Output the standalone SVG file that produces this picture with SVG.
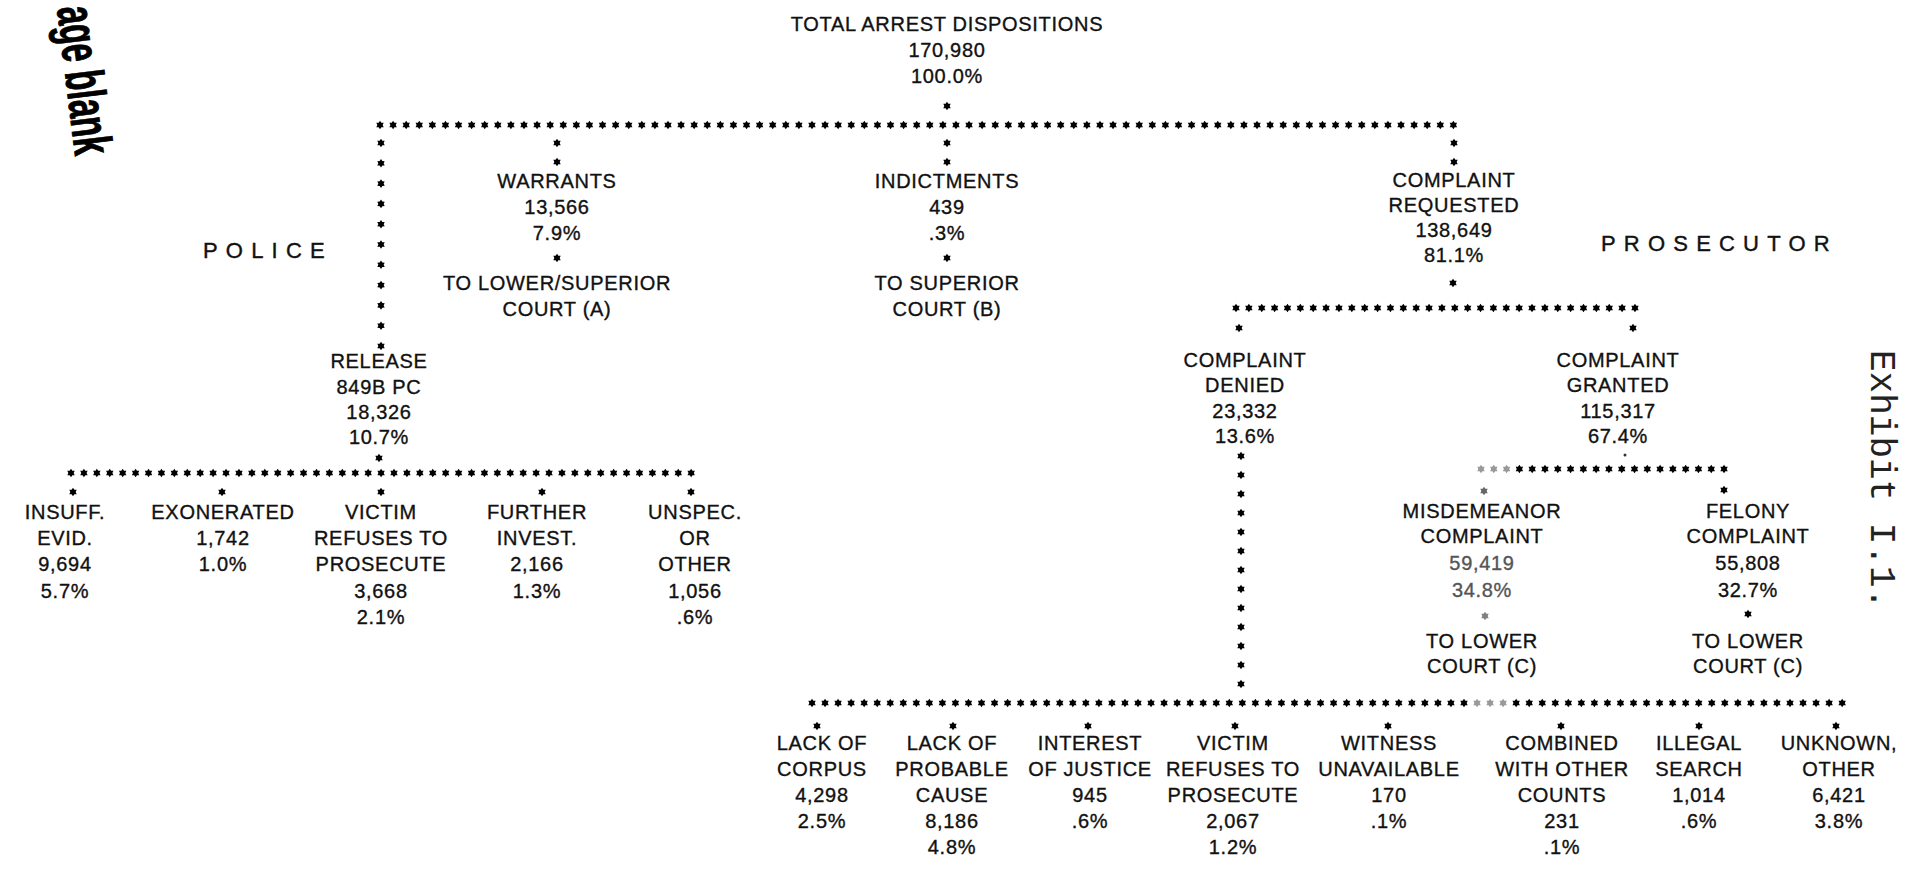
<svg xmlns="http://www.w3.org/2000/svg" xmlns:xlink="http://www.w3.org/1999/xlink" width="1906" height="872" viewBox="0 0 1906 872">
  <style>
    .t { font-family: "Liberation Sans", Arial, sans-serif; font-size: 20px; letter-spacing: 0.7px; fill: #111; stroke: #111; stroke-width: 0.35px; text-anchor: middle; }
    .h { font-family: "Liberation Sans", Arial, sans-serif; font-size: 22px; letter-spacing: 8.2px; fill: #111; stroke: #111; stroke-width: 0.4px; }
    .pale { fill: #555; stroke: #555; }
    .dots { fill: none; stroke: none; marker-start: url(#st); marker-mid: url(#st); marker-end: url(#st); }
    .dots.f { marker-start: url(#sf); marker-mid: url(#sf); marker-end: url(#sf); }
  </style>
  <defs>
    <!-- typewriter asterisk used for every dotted connector -->
    <polygon id="star" points="0,-4.3 1.35,-2.3 3.7,-2.15 2.65,0 3.7,2.15 1.35,2.3 0,4.3 -1.35,2.3 -3.7,2.15 -2.65,0 -3.7,-2.15 -1.35,-2.3" fill="#000"/>
    <marker id="st" markerUnits="userSpaceOnUse" markerWidth="10" markerHeight="10" refX="0" refY="0" style="overflow:visible">
      <use href="#star"/>
    </marker>
    <marker id="sf" markerUnits="userSpaceOnUse" markerWidth="10" markerHeight="10" refX="0" refY="0" style="overflow:visible">
      <polygon points="0,-4.3 1.35,-2.3 3.7,-2.15 2.65,0 3.7,2.15 1.35,2.3 0,4.3 -1.35,2.3 -3.7,2.15 -2.65,0 -3.7,-2.15 -1.35,-2.3" fill="#999"/>
    </marker>
  </defs>
  <rect width="1906" height="872" fill="#fff"/>

  <!-- side annotations -->
  <text transform="translate(57,8) rotate(83) scale(0.6,1)" font-family="Liberation Sans, Arial, sans-serif" font-weight="bold" font-size="54" fill="#000" stroke="#000" stroke-width="1">age blank</text>
  <text transform="translate(1871,350) rotate(90)" font-family="Liberation Mono, Courier New, monospace" font-size="36" fill="#222">Exhibit I.1.</text>
  <text class="h" x="203" y="258">POLICE</text>
  <text class="h" x="1601" y="251">PROSECUTOR</text>

  <!-- dotted connectors -->
  <g id="connectors">
    <use href="#star" x="947" y="106"/>
    <path class="dots" d="M380 125h13.09h13.09h13.09h13.09h13.09h13.09h13.09h13.09h13.09h13.09h13.09h13.09h13.09h13.09h13.09h13.09h13.09h13.09h13.09h13.09h13.09h13.09h13.09h13.09h13.09h13.09h13.09h13.09h13.09h13.09h13.09h13.09h13.09h13.09h13.09h13.09h13.09h13.09h13.09h13.09h13.09h13.09h13.09h13.09h13.09h13.09h13.09h13.09h13.09h13.09h13.09h13.09h13.09h13.09h13.09h13.09h13.09h13.09h13.09h13.09h13.09h13.09h13.09h13.09h13.09h13.09h13.09h13.09h13.09h13.09h13.09h13.09h13.09h13.09h13.09h13.09h13.09h13.09h13.09h13.09h13.09h13.09"/>
    <path class="dots" d="M381 143v20.3v20.3v20.3v20.3v20.3v20.3v20.3v20.3v20.3v20.3"/>
    <path class="dots" d="M557 143v19"/>
    <path class="dots" d="M947 143v19"/>
    <path class="dots" d="M1454 143v19"/>
    <use href="#star" x="557" y="258"/>
    <use href="#star" x="947" y="258"/>
    <use href="#star" x="1453" y="283"/>

    <!-- police release branch -->
    <use href="#star" x="379" y="458"/>
    <path class="dots" d="M71 473h12.92h12.92h12.92h12.92h12.92h12.92h12.92h12.92h12.92h12.92h12.92h12.92h12.92h12.92h12.92h12.92h12.92h12.92h12.92h12.92h12.92h12.92h12.92h12.92h12.92h12.92h12.92h12.92h12.92h12.92h12.92h12.92h12.92h12.92h12.92h12.92h12.92h12.92h12.92h12.92h12.92h12.92h12.92h12.92h12.92h12.92h12.92h12.92"/>
    <use href="#star" x="73" y="492"/>
    <use href="#star" x="222" y="492"/>
    <use href="#star" x="381" y="492"/>
    <use href="#star" x="542" y="492"/>
    <use href="#star" x="691" y="492"/>

    <!-- prosecutor split -->
    <path class="dots" d="M1236 308h12.87h12.87h12.87h12.87h12.87h12.87h12.87h12.87h12.87h12.87h12.87h12.87h12.87h12.87h12.87h12.87h12.87h12.87h12.87h12.87h12.87h12.87h12.87h12.87h12.87h12.87h12.87h12.87h12.87h12.87h12.87"/>
    <use href="#star" x="1239" y="328"/>
    <use href="#star" x="1633" y="328"/>

    <!-- complaint granted split -->
    <circle cx="1625" cy="455" r="1.5" fill="#333"/>
    <path class="dots f" d="M1481 469h12.79h12.79"/>
    <path class="dots" d="M1519.4 469h12.79h12.79h12.79h12.79h12.79h12.79h12.79h12.79h12.79h12.79h12.79h12.79h12.79h12.79h12.79h12.79"/>
    <use href="#star" x="1484" y="491" opacity="0.6"/>
    <use href="#star" x="1724" y="490"/>
    <use href="#star" x="1485" y="616" opacity="0.5"/>
    <use href="#star" x="1748" y="614"/>

    <!-- complaint denied branch -->
    <path class="dots" d="M1241 456v19v19v19v19v19v19v19v19v19v19v19v19"/>
    <path class="dots" d="M812 703h13.04h13.04h13.04h13.04h13.04h13.04h13.04h13.04h13.04h13.04h13.04h13.04h13.04h13.04h13.04h13.04h13.04h13.04h13.04h13.04h13.04h13.04h13.04h13.04h13.04h13.04h13.04h13.04h13.04h13.04h13.04h13.04h13.04h13.04h13.04h13.04h13.04h13.04h13.04h13.04h13.04h13.04h13.04h13.04h13.04h13.04h13.04h13.04h13.04h13.04"/>
    <path class="dots f" d="M1477.04 703h13.04h13.04"/>
    <path class="dots" d="M1516.16 703h13.04h13.04h13.04h13.04h13.04h13.04h13.04h13.04h13.04h13.04h13.04h13.04h13.04h13.04h13.04h13.04h13.04h13.04h13.04h13.04h13.04h13.04h13.04h13.04h13.04"/>
    <use href="#star" x="817" y="726"/>
    <use href="#star" x="953" y="726"/>
    <use href="#star" x="1088" y="726"/>
    <use href="#star" x="1235" y="726"/>
    <use href="#star" x="1388" y="726"/>
    <use href="#star" x="1561" y="726"/>
    <use href="#star" x="1699" y="726"/>
    <use href="#star" x="1836" y="726"/>
  </g>

  <!-- top level -->
  <g id="total">
    <text class="t"><tspan x="947" y="31">TOTAL ARREST DISPOSITIONS</tspan><tspan x="947" y="57">170,980</tspan><tspan x="947" y="83">100.0%</tspan></text>
  </g>
  <g id="warrants">
    <text class="t"><tspan x="557" y="188">WARRANTS</tspan><tspan x="557" y="214">13,566</tspan><tspan x="557" y="240">7.9%</tspan><tspan x="557" y="290">TO LOWER/SUPERIOR</tspan><tspan x="557" y="316">COURT (A)</tspan></text>
  </g>
  <g id="indictments">
    <text class="t"><tspan x="947" y="188">INDICTMENTS</tspan><tspan x="947" y="214">439</tspan><tspan x="947" y="240">.3%</tspan><tspan x="947" y="290">TO SUPERIOR</tspan><tspan x="947" y="316">COURT (B)</tspan></text>
  </g>
  <g id="complaint-requested">
    <text class="t"><tspan x="1454" y="187">COMPLAINT</tspan><tspan x="1454" y="212">REQUESTED</tspan><tspan x="1454" y="237">138,649</tspan><tspan x="1454" y="262">81.1%</tspan></text>
  </g>

  <!-- police release -->
  <g id="release">
    <text class="t"><tspan x="379" y="368">RELEASE</tspan><tspan x="379" y="394">849B PC</tspan><tspan x="379" y="419">18,326</tspan><tspan x="379" y="444">10.7%</tspan></text>
  </g>
  <g id="insufficient-evidence">
    <text class="t"><tspan x="65" y="519">INSUFF.</tspan><tspan x="65" y="545">EVID.</tspan><tspan x="65" y="571">9,694</tspan><tspan x="65" y="598">5.7%</tspan></text>
  </g>
  <g id="exonerated">
    <text class="t"><tspan x="223" y="519">EXONERATED</tspan><tspan x="223" y="545">1,742</tspan><tspan x="223" y="571">1.0%</tspan></text>
  </g>
  <g id="victim-refuses-police">
    <text class="t"><tspan x="381" y="519">VICTIM</tspan><tspan x="381" y="545">REFUSES TO</tspan><tspan x="381" y="571">PROSECUTE</tspan><tspan x="381" y="598">3,668</tspan><tspan x="381" y="624">2.1%</tspan></text>
  </g>
  <g id="further-invest">
    <text class="t"><tspan x="537" y="519">FURTHER</tspan><tspan x="537" y="545">INVEST.</tspan><tspan x="537" y="571">2,166</tspan><tspan x="537" y="598">1.3%</tspan></text>
  </g>
  <g id="unspecified">
    <text class="t"><tspan x="695" y="519">UNSPEC.</tspan><tspan x="695" y="545">OR</tspan><tspan x="695" y="571">OTHER</tspan><tspan x="695" y="598">1,056</tspan><tspan x="695" y="624">.6%</tspan></text>
  </g>

  <!-- prosecutor -->
  <g id="complaint-denied">
    <text class="t"><tspan x="1245" y="367">COMPLAINT</tspan><tspan x="1245" y="392">DENIED</tspan><tspan x="1245" y="418">23,332</tspan><tspan x="1245" y="443">13.6%</tspan></text>
  </g>
  <g id="complaint-granted">
    <text class="t"><tspan x="1618" y="367">COMPLAINT</tspan><tspan x="1618" y="392">GRANTED</tspan><tspan x="1618" y="418">115,317</tspan><tspan x="1618" y="443">67.4%</tspan></text>
  </g>
  <g id="misdemeanor">
    <text class="t"><tspan x="1482" y="518">MISDEMEANOR</tspan><tspan x="1482" y="543">COMPLAINT</tspan><tspan x="1482" y="570" class="pale">59,419</tspan><tspan x="1482" y="597" class="pale">34.8%</tspan><tspan x="1482" y="648">TO LOWER</tspan><tspan x="1482" y="673">COURT (C)</tspan></text>
  </g>
  <g id="felony">
    <text class="t"><tspan x="1748" y="518">FELONY</tspan><tspan x="1748" y="543">COMPLAINT</tspan><tspan x="1748" y="570">55,808</tspan><tspan x="1748" y="597">32.7%</tspan><tspan x="1748" y="648">TO LOWER</tspan><tspan x="1748" y="673">COURT (C)</tspan></text>
  </g>

  <!-- reasons for denial -->
  <g id="lack-of-corpus">
    <text class="t"><tspan x="822" y="750">LACK OF</tspan><tspan x="822" y="776">CORPUS</tspan><tspan x="822" y="802">4,298</tspan><tspan x="822" y="828">2.5%</tspan></text>
  </g>
  <g id="lack-of-probable-cause">
    <text class="t"><tspan x="952" y="750">LACK OF</tspan><tspan x="952" y="776">PROBABLE</tspan><tspan x="952" y="802">CAUSE</tspan><tspan x="952" y="828">8,186</tspan><tspan x="952" y="854">4.8%</tspan></text>
  </g>
  <g id="interest-of-justice">
    <text class="t"><tspan x="1090" y="750">INTEREST</tspan><tspan x="1090" y="776">OF JUSTICE</tspan><tspan x="1090" y="802">945</tspan><tspan x="1090" y="828">.6%</tspan></text>
  </g>
  <g id="victim-refuses-prosecutor">
    <text class="t"><tspan x="1233" y="750">VICTIM</tspan><tspan x="1233" y="776">REFUSES TO</tspan><tspan x="1233" y="802">PROSECUTE</tspan><tspan x="1233" y="828">2,067</tspan><tspan x="1233" y="854">1.2%</tspan></text>
  </g>
  <g id="witness-unavailable">
    <text class="t"><tspan x="1389" y="750">WITNESS</tspan><tspan x="1389" y="776">UNAVAILABLE</tspan><tspan x="1389" y="802">170</tspan><tspan x="1389" y="828">.1%</tspan></text>
  </g>
  <g id="combined-counts">
    <text class="t"><tspan x="1562" y="750">COMBINED</tspan><tspan x="1562" y="776">WITH OTHER</tspan><tspan x="1562" y="802">COUNTS</tspan><tspan x="1562" y="828">231</tspan><tspan x="1562" y="854">.1%</tspan></text>
  </g>
  <g id="illegal-search">
    <text class="t"><tspan x="1699" y="750">ILLEGAL</tspan><tspan x="1699" y="776">SEARCH</tspan><tspan x="1699" y="802">1,014</tspan><tspan x="1699" y="828">.6%</tspan></text>
  </g>
  <g id="unknown-other">
    <text class="t"><tspan x="1839" y="750">UNKNOWN,</tspan><tspan x="1839" y="776">OTHER</tspan><tspan x="1839" y="802">6,421</tspan><tspan x="1839" y="828">3.8%</tspan></text>
  </g>
</svg>
